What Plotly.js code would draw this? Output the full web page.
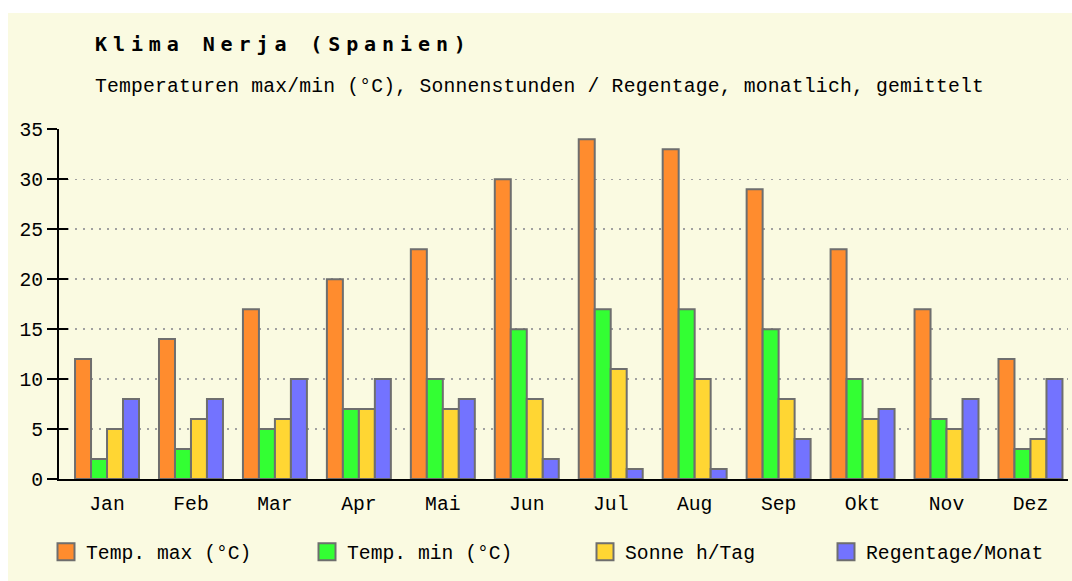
<!DOCTYPE html>
<html>
<head>
<meta charset="utf-8">
<script src="https://cdn.plot.ly/plotly-3.0.1.min.js"></script>
<style>
  html, body { margin: 0; padding: 0; background: #ffffff; }
  #chart { width: 1072px; height: 581px; }
  .gtitle { letter-spacing: 5.9px; }
  .annotation-text { letter-spacing: 0.2px; }
</style>
</head>
<body>
<div id="chart"></div>
<script>
const months = ["Jan", "Feb", "Mar", "Apr", "Mai", "Jun", "Jul", "Aug", "Sep", "Okt", "Nov", "Dez"];
const tempMax = [12, 14, 17, 20, 23, 30, 34, 33, 29, 23, 17, 12];
const tempMin = [2, 3, 5, 7, 10, 15, 17, 17, 15, 10, 6, 3];
const sonne = [5, 6, 6, 7, 7, 8, 11, 10, 8, 6, 5, 4];
const regentage = [8, 8, 10, 10, 8, 2, 1, 1, 4, 7, 8, 10];
const seriesNames = ["Temp. max (°C)", "Temp. min (°C)", "Sonne h/Tag", "Regentage/Monat"];
const yTicks = [0, 5, 10, 15, 20, 25, 30, 35];

const colors = ["#ff8c2e", "#33ff33", "#ffd633", "#7373ff"];
const FONT = "Liberation Mono, DejaVu Sans Mono, monospace";
const TITLE_FONT = "DejaVu Sans Mono, Liberation Mono, monospace";
const BG = "#fafae1";
const legendNames = ["legend", "legend2", "legend3", "legend4"];
const legendTextStarts = [86, 347, 625, 866];

const values = [tempMax, tempMin, sonne, regentage];
const traces = values.map((v, i) => ({
  type: "bar",
  name: seriesNames[i],
  x: months,
  y: v,
  legend: legendNames[i],
  marker: { color: colors[i], line: { color: "#6e6e6e", width: 2 } },
  hoverinfo: "x+y+name"
}));
traces.push({ type: "scatter", x: [], y: [], yaxis: "y2", showlegend: false, hoverinfo: "skip" });

const layout = {
  width: 1072,
  height: 581,
  paper_bgcolor: "#ffffff",
  plot_bgcolor: "rgba(0,0,0,0)",
  margin: { l: 59, r: 4, t: 129, b: 102, pad: 0, autoexpand: false },
  font: { family: FONT, size: 19.7, color: "#000000" },
  title: {
    text: "Klima Nerja (Spanien)",
    font: { family: TITLE_FONT, size: 20, weight: "bold", color: "#000000" },
    xref: "container", x: 95 / 1072, xanchor: "left",
    yref: "container", y: 1 - 44 / 581, yanchor: "middle"
  },
  annotations: [{
    text: "Temperaturen max/min (°C), Sonnenstunden / Regentage, monatlich, gemittelt",
    xref: "paper", yref: "paper",
    x: (93 - 59) / 1009, y: (479 - 87) / 350,
    xanchor: "left", yanchor: "middle",
    showarrow: false,
    font: { family: FONT, size: 19.7, color: "#000000" }
  }],
  shapes: [{
    type: "rect", xref: "paper", yref: "paper", layer: "below",
    x0: (8 - 59) / 1009, x1: (1075 - 59) / 1009,
    y0: (479 - 585) / 350, y1: (479 - 13) / 350,
    fillcolor: BG, line: { width: 0 }
  }],
  barmode: "group",
  bargap: 0.238,
  bargroupgap: 0,
  xaxis: {
    type: "category",
    range: [-0.572, 11.447],
    showgrid: false,
    zeroline: false,
    showline: true, linecolor: "#000000", linewidth: 2,
    ticks: "outside", ticklen: 5, tickcolor: "rgba(0,0,0,0)",
    tickfont: { family: FONT, size: 19.7, color: "#000000" },
    fixedrange: true
  },
  yaxis: {
    range: [0, 35.03],
    tickvals: yTicks,
    ticktext: yTicks.map(String),
    showgrid: true, gridcolor: "#a0a0a0", gridwidth: 1.5, griddash: "2px,6px",
    zeroline: false,
    showline: true, linecolor: "#000000", linewidth: 2,
    ticks: "outside", ticklen: 10, tickwidth: 2, tickcolor: "#000000",
    tickfont: { family: FONT, size: 19.7, color: "#000000" },
    fixedrange: true
  },
  yaxis2: {
    overlaying: "y", side: "left", anchor: "x",
    range: [0, 35.03],
    tickvals: yTicks,
    showticklabels: false,
    showgrid: false, zeroline: false, showline: false,
    ticks: "inside", ticklen: 9, tickwidth: 2, tickcolor: "#000000",
    fixedrange: true
  },
  showlegend: true
};

legendNames.forEach((ln, i) => {
  layout[ln] = {
    orientation: "h",
    x: (legendTextStarts[i] - 40 - 59) / 1009, xanchor: "left",
    y: (479 - 552) / 350, yanchor: "middle",
    bgcolor: "rgba(0,0,0,0)",
    font: { family: FONT, size: 19.7, color: "#000000" }
  };
});

Plotly.newPlot("chart", traces, layout, { displayModeBar: false, staticPlot: true }).then(() => {
  document.querySelectorAll("g.legendpoints path").forEach(p => {
    p.setAttribute("d", "M8.5,8.5H-8.5V-8.5H8.5Z");
  });
});
</script>
</body>
</html>
